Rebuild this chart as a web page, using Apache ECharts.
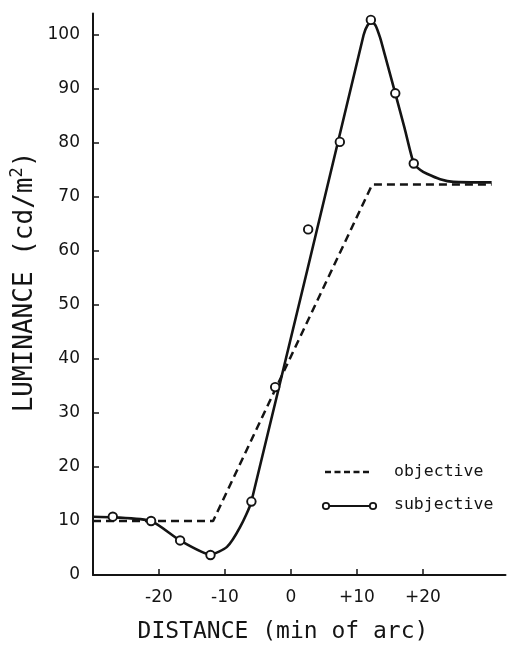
<!DOCTYPE html>
<html>
<head>
<meta charset="utf-8">
<title>Luminance profile</title>
<script src="https://cdn.jsdelivr.net/npm/echarts@6/dist/echarts.min.js"></script>
<style>
  html, body { margin: 0; padding: 0; background: #fff; }
  #chart { width: 508px; height: 650px; }
</style>
</head>
<body>
<div id="chart"></div>
<script>
// Measured (subjective) luminance points, min of arc vs cd/m2
const distanceMeasured = [-27.0, -21.2, -16.8, -12.2, -6.0, -2.4, 2.6, 7.4, 12.1, 15.8, 18.6];
const luminanceMeasured = [10.8, 10.0, 6.4, 3.7, 13.6, 34.8, 64.0, 80.2, 102.8, 89.2, 76.2];

// Hand-fitted curve through the subjective measurements
const curveDistance = [-30, -27, -21.2, -16.8, -12.2, -9.7, -7.7, -6.0, 11.0, 11.6, 12.2, 12.8, 13.5, 14.2, 15.8, 17.2, 18.6, 19.6, 20.6, 22.6, 24.6, 30.4];
const curveLuminance = [10.8, 10.7, 10.0, 6.4, 3.8, 5.2, 8.9, 13.6, 100.0, 101.8, 102.4, 101.8, 99.5, 96.4, 89.2, 82.8, 76.2, 75.0, 74.3, 73.3, 72.8, 72.7];

// Physical (objective) luminance ramp
const objectiveDistance = [-30, -11.8, 12.3, 30.4];
const objectiveLuminance = [10.0, 10.0, 72.3, 72.3];

// Axis ticks
const xTicks = [-20, -10, 0, 10, 20];
const yTicks = [0, 10, 20, 30, 40, 50, 60, 70, 80, 90, 100];

const legendLabels = ['objective', 'subjective'];
const xTitle = 'DISTANCE (min of arc)';

const INK = '#141414';
const LETTERING = 'DejaVu Sans Mono';
const zip = (xs, ys) => xs.map((x, i) => [x, ys[i]]);

const chart = echarts.init(document.getElementById('chart'), null, { renderer: 'canvas' });

const axisCommon = {
  axisLine: { show: true, onZero: false, lineStyle: { color: INK, width: 2 } },
  axisTick: { show: true, inside: true, length: 6, lineStyle: { color: INK, width: 1.5 } },
  splitLine: { show: false },
  axisLabel: { color: INK, fontFamily: 'DejaVu Sans', fontSize: 17 }
};

chart.setOption({
  animation: false,
  backgroundColor: '#ffffff',
  grid: { left: 93, top: 13.4, width: 412.5, height: 561.6, containLabel: false },
  xAxis: {
    type: 'value', min: -30, max: 32.5, interval: 10,
    ...axisCommon,
    axisTick: { ...axisCommon.axisTick, customValues: xTicks },
    axisLabel: {
      ...axisCommon.axisLabel, margin: 14, customValues: xTicks,
      formatter: v => (v > 0 ? '+' + v : String(v))
    }
  },
  yAxis: {
    type: 'value', min: 0, max: 104, interval: 10,
    ...axisCommon,
    axisTick: { ...axisCommon.axisTick, customValues: yTicks },
    axisLabel: { ...axisCommon.axisLabel, margin: 13, customValues: yTicks }
  },
  series: [
    {
      name: legendLabels[0], type: 'line', data: zip(objectiveDistance, objectiveLuminance),
      showSymbol: false, symbol: 'none', z: 2,
      lineStyle: { color: INK, width: 2.5, type: [8, 5] }
    },
    {
      name: legendLabels[1], type: 'line', data: zip(curveDistance, curveLuminance),
      showSymbol: false, symbol: 'none', smooth: 0.2, z: 3,
      lineStyle: { color: INK, width: 2.6 }
    },
    {
      name: legendLabels[1] + ' data', type: 'scatter', data: zip(distanceMeasured, luminanceMeasured),
      symbol: 'circle', symbolSize: 8.5, z: 4,
      itemStyle: { color: '#ffffff', borderColor: INK, borderWidth: 1.9, opacity: 1 }
    }
  ],
  graphic: [
    // axis titles
    {
      type: 'text', x: 283, y: 632, z: 10,
      style: {
        text: xTitle, fill: INK, fontFamily: LETTERING, fontSize: 23,
        align: 'center', verticalAlign: 'middle'
      }
    },
    {
      type: 'text', x: 25, y: 282, rotation: Math.PI / 2, z: 10,
      style: {
        text: 'LUMINANCE (cd/m{s|2})', fill: INK, fontFamily: LETTERING, fontSize: 26,
        align: 'center', verticalAlign: 'middle',
        rich: { s: { fontSize: 17, fontFamily: LETTERING, fill: INK, padding: [0, 0, 14, 0] } }
      }
    },
    // legend: objective
    {
      type: 'line', z: 10,
      shape: { x1: 325, y1: 472, x2: 372, y2: 472 },
      style: { stroke: INK, lineWidth: 2.5, lineDash: [6, 3.5] }
    },
    {
      type: 'text', x: 394, y: 472, z: 10,
      style: { text: legendLabels[0], fill: INK, fontFamily: LETTERING, fontSize: 16.5, verticalAlign: 'middle' }
    },
    // legend: subjective
    {
      type: 'line', z: 10,
      shape: { x1: 326, y1: 506, x2: 373, y2: 506 },
      style: { stroke: INK, lineWidth: 2 }
    },
    {
      type: 'circle', z: 11, shape: { cx: 326, cy: 506, r: 3.2 },
      style: { fill: '#fff', stroke: INK, lineWidth: 1.8 }
    },
    {
      type: 'circle', z: 11, shape: { cx: 373, cy: 506, r: 3.2 },
      style: { fill: '#fff', stroke: INK, lineWidth: 1.8 }
    },
    {
      type: 'text', x: 394, y: 505, z: 10,
      style: { text: legendLabels[1], fill: INK, fontFamily: LETTERING, fontSize: 16.5, verticalAlign: 'middle' }
    }
  ]
});
</script>
</body>
</html>
